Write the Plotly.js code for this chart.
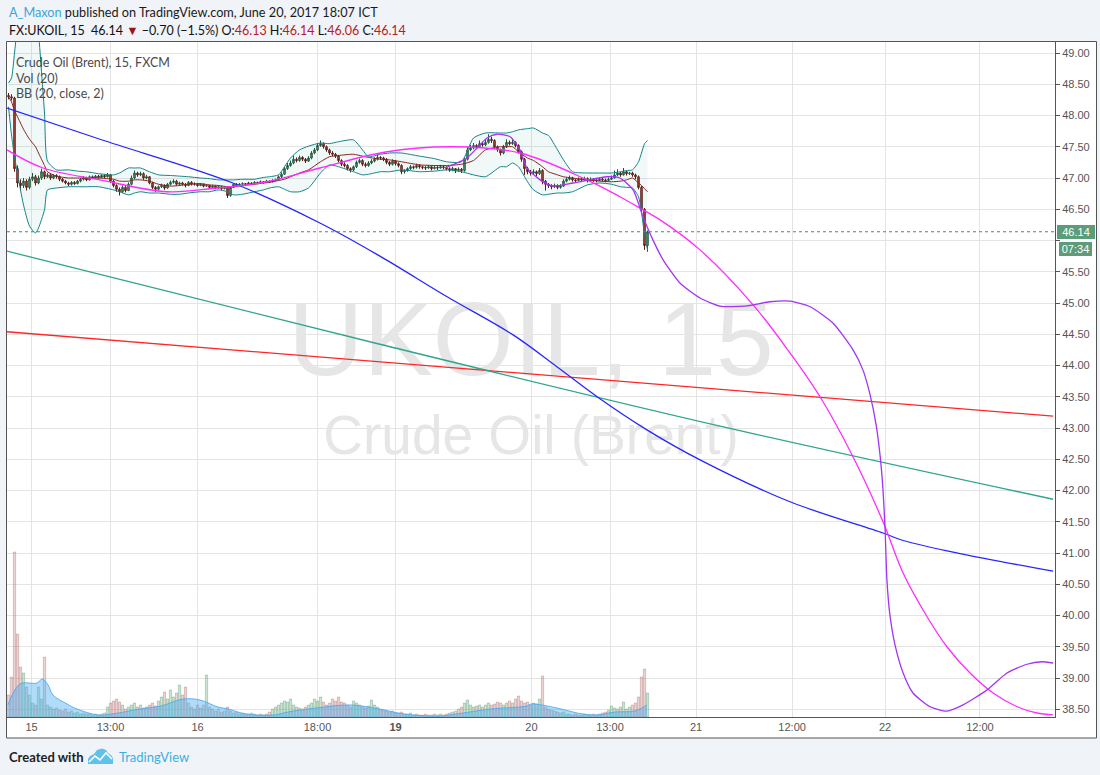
<!DOCTYPE html>
<html><head><meta charset="utf-8">
<script src="https://cdn.plot.ly/plotly-3.0.1.min.js"></script>
<style>html,body{margin:0;padding:0;background:#f0f3f7;}#chart{width:1100px;height:775px;}</style>
</head><body><div id="chart"></div>
<script>
// ---------- DATA ----------
const barOpen = [
48.32,48.30,48.28,47.15,46.92,46.88,46.95,46.85,46.98,47.02,
46.92,47.00,47.10,47.02,47.05,47.00,47.04,47.02,46.98,46.95,
46.92,46.90,46.93,46.91,46.95,46.98,47.00,46.97,47.02,47.00,
47.03,47.01,47.04,47.02,47.05,46.95,46.88,46.82,46.78,46.85,
46.80,46.90,47.00,47.08,47.05,47.07,47.00,47.02,46.92,46.85,
46.82,46.86,46.88,46.84,46.90,46.93,46.95,46.90,46.92,46.90,
46.88,46.93,46.90,46.90,46.88,46.90,46.87,46.88,46.85,46.87,
46.84,46.86,46.83,46.85,46.72,46.85,46.90,46.88,46.90,46.91,
46.90,46.92,46.91,46.93,46.92,46.94,46.93,46.95,46.94,46.96,
46.97,47.02,47.06,47.15,47.20,47.24,47.30,47.28,47.33,47.30,
47.27,47.32,47.40,47.45,47.52,47.55,47.50,47.45,47.40,47.38,
47.35,47.28,47.22,47.20,47.15,47.13,47.18,47.25,47.28,47.22,
47.20,47.24,47.27,47.30,47.33,47.32,47.30,47.25,47.22,47.27,
47.23,47.20,47.10,47.12,47.15,47.18,47.17,47.20,47.18,47.17,
47.16,47.18,47.15,47.17,47.16,47.18,47.17,47.15,47.13,47.15,
47.12,47.14,47.12,47.30,47.45,47.48,47.52,47.50,47.55,47.53,
47.57,47.62,47.60,47.50,47.45,47.40,47.50,47.57,47.55,47.57,
47.52,47.42,47.30,47.15,47.10,47.08,47.10,47.07,47.12,46.95,
46.90,46.88,46.86,46.88,46.85,46.87,46.95,46.98,47.00,46.97,
46.96,46.98,46.97,46.99,46.96,46.98,46.97,46.96,46.98,46.97,
46.96,46.98,47.00,47.05,47.08,47.05,47.10,47.07,47.08,47.05,
47.02,46.85,46.50,45.92];
const barHigh = [
48.36,48.34,48.30,47.20,46.98,47.00,46.98,47.02,47.08,47.05,
47.04,47.15,47.12,47.08,47.07,47.06,47.06,47.04,47.00,46.97,
46.94,46.95,46.95,46.97,47.00,47.03,47.02,47.04,47.04,47.05,
47.05,47.06,47.06,47.08,47.06,46.97,46.90,46.85,46.88,46.87,
46.93,47.04,47.12,47.10,47.10,47.09,47.05,47.03,46.94,46.87,
46.88,46.91,46.90,46.92,46.96,46.98,46.97,46.94,46.94,46.92,
46.95,46.95,46.93,46.92,46.92,46.91,46.90,46.89,46.89,46.88,
46.88,46.87,46.87,46.86,46.87,46.92,46.92,46.92,46.93,46.92,
46.94,46.93,46.95,46.94,46.96,46.95,46.97,46.96,46.98,46.99,
47.04,47.09,47.18,47.24,47.28,47.36,47.33,47.36,47.35,47.32,
47.35,47.43,47.48,47.56,47.60,47.57,47.52,47.47,47.43,47.40,
47.37,47.30,47.25,47.22,47.17,47.20,47.28,47.31,47.30,47.25,
47.27,47.30,47.33,47.38,47.35,47.34,47.32,47.27,47.30,47.29,
47.25,47.22,47.14,47.17,47.21,47.20,47.23,47.22,47.20,47.19,
47.21,47.20,47.20,47.19,47.21,47.20,47.19,47.17,47.18,47.16,
47.17,47.16,47.33,47.50,47.53,47.56,47.54,47.60,47.58,47.62,
47.70,47.66,47.62,47.52,47.47,47.53,47.62,47.60,47.63,47.59,
47.54,47.44,47.32,47.18,47.13,47.14,47.12,47.16,47.14,46.97,
46.92,46.90,46.91,46.90,46.90,46.98,47.01,47.04,47.02,46.99,
47.01,47.00,47.02,47.01,47.01,47.00,46.99,47.01,47.00,46.99,
47.01,47.04,47.12,47.14,47.10,47.16,47.12,47.10,47.10,47.07,
47.04,46.87,46.52,46.16];
const barLow = [
48.26,48.24,47.10,46.85,46.80,46.84,46.80,46.82,46.95,46.88,
46.90,46.97,46.98,47.00,46.97,46.98,46.99,46.95,46.93,46.90,
46.87,46.88,46.89,46.90,46.93,46.96,46.95,46.96,46.98,46.99,
46.99,47.00,47.00,47.01,46.92,46.85,46.78,46.72,46.76,46.77,
46.79,46.88,46.98,47.02,47.03,46.97,46.98,46.90,46.82,46.78,
46.80,46.84,46.81,46.83,46.88,46.91,46.88,46.88,46.88,46.85,
46.87,46.88,46.88,46.86,46.87,46.85,46.86,46.83,46.84,46.82,
46.83,46.81,46.82,46.68,46.70,46.84,46.86,46.87,46.89,46.88,
46.89,46.89,46.90,46.90,46.91,46.91,46.92,46.92,46.93,46.95,
46.96,47.00,47.05,47.13,47.18,47.22,47.25,47.26,47.27,47.24,
47.26,47.30,47.38,47.43,47.50,47.47,47.42,47.37,47.35,47.32,
47.25,47.19,47.17,47.12,47.09,47.11,47.16,47.23,47.19,47.17,
47.18,47.22,47.25,47.28,47.29,47.27,47.22,47.19,47.20,47.20,
47.17,47.06,47.07,47.10,47.13,47.14,47.15,47.15,47.14,47.13,
47.15,47.12,47.14,47.13,47.15,47.14,47.12,47.10,47.11,47.08,
47.10,47.08,47.10,47.28,47.43,47.46,47.46,47.48,47.50,47.51,
47.55,47.56,47.47,47.42,47.36,47.38,47.48,47.52,47.53,47.49,
47.39,47.26,47.05,47.06,47.04,47.06,47.03,47.05,46.90,46.80,
46.84,46.82,46.84,46.82,46.83,46.86,46.93,46.96,46.94,46.93,
46.95,46.94,46.96,46.93,46.95,46.94,46.93,46.95,46.94,46.93,
46.95,46.97,46.99,47.03,47.02,47.04,47.04,47.05,47.02,46.98,
46.82,46.45,45.85,45.82];
const barClose = [
48.30,48.28,47.15,46.92,46.88,46.95,46.85,46.98,47.02,46.92,
47.00,47.10,47.02,47.05,47.00,47.04,47.02,46.98,46.95,46.92,
46.90,46.93,46.91,46.95,46.98,47.00,46.97,47.02,47.00,47.03,
47.01,47.04,47.02,47.05,46.95,46.88,46.82,46.78,46.85,46.80,
46.90,47.00,47.08,47.05,47.07,47.00,47.02,46.92,46.85,46.82,
46.86,46.88,46.84,46.90,46.93,46.95,46.90,46.92,46.90,46.88,
46.93,46.90,46.90,46.88,46.90,46.87,46.88,46.85,46.87,46.84,
46.86,46.83,46.85,46.72,46.85,46.90,46.88,46.90,46.91,46.90,
46.92,46.91,46.93,46.92,46.94,46.93,46.95,46.94,46.96,46.97,
47.02,47.06,47.15,47.20,47.24,47.30,47.28,47.33,47.30,47.27,
47.32,47.40,47.45,47.52,47.55,47.50,47.45,47.40,47.38,47.35,
47.28,47.22,47.20,47.15,47.13,47.18,47.25,47.28,47.22,47.20,
47.24,47.27,47.30,47.33,47.32,47.30,47.25,47.22,47.27,47.23,
47.20,47.10,47.12,47.15,47.18,47.17,47.20,47.18,47.17,47.16,
47.18,47.15,47.17,47.16,47.18,47.17,47.15,47.13,47.15,47.12,
47.14,47.12,47.30,47.45,47.48,47.52,47.50,47.55,47.53,47.57,
47.62,47.60,47.50,47.45,47.40,47.50,47.57,47.55,47.57,47.52,
47.42,47.30,47.15,47.10,47.08,47.10,47.07,47.12,46.95,46.90,
46.88,46.86,46.88,46.85,46.87,46.95,46.98,47.00,46.97,46.96,
46.98,46.97,46.99,46.96,46.98,46.97,46.96,46.98,46.97,46.96,
46.98,47.00,47.05,47.08,47.05,47.10,47.07,47.08,47.05,47.02,
46.85,46.50,45.92,46.14];
const volume = [
22,40,165,83,50,44,30,22,14,12,
30,18,60,12,10,8,9,7,6,8,
5,6,4,5,3,4,3,3,2,3,
2,3,4,10,14,16,18,15,12,8,
10,12,14,10,12,9,10,12,14,11,
16,20,25,18,27,20,24,32,22,30,
14,10,8,12,9,12,42,10,8,6,
8,5,6,10,6,4,5,3,4,3,
3,4,3,2,3,2,3,5,8,10,
12,14,16,15,18,12,10,9,8,10,
12,14,18,16,20,15,12,14,18,16,
20,15,14,12,10,16,14,12,10,9,
11,17,12,10,8,7,6,5,6,4,
4,5,3,3,4,2,3,2,2,3,
2,2,3,2,3,2,3,4,5,6,
8,10,14,17,12,10,11,12,10,12,
14,12,13,15,14,12,14,16,14,18,
21,16,14,15,12,14,13,18,41,10,
8,7,6,5,4,5,3,3,2,3,
2,2,3,2,2,3,2,3,4,5,
7,11,9,8,10,15,8,10,12,14,
20,40,48,24];
const volMaX = [-0.2,3.8,9.5,11.2,13.2,14.8,19.5,22.8,29.8,34.5,43.8,50.8,58.2,63.8,69.8,73.2,79.2,88.5,93.2,102.5,114.2,123.5,131.8,143.5,149.2,160.8,172.8,174.2,182.8,189.5,195.8,202.2,208.8,212.8];
const volMaY = [12,33,34,38,32,22,13,8,2,3,8,11,18,17,10,8,3,2,5,9,12,8,3,1,3,8,11,13,9,4,2,5,6,12];

const bbX = [0,1,2,4,5,7,9,10,12,13,16,20,23,26,30,35,37,40,42,44,47,50,54,57,60,64,67,70,73,75,78,82,85,87,90,92,94,97,100,104,107,110,115,118,120,124,127,131,137,142,146,151,155,159,164,166,168,170,173,175,178,180,183,185,188,193,197,201,204,206,208,210,211,212,213];
const bbUpper = [48.52,48.60,49.00,49.90,50.20,50.30,50.00,49.35,48.04,47.27,
47.13,47.13,47.11,47.10,47.07,47.05,47.08,47.16,47.16,47.16,
47.10,47.05,47.04,47.03,47.02,47.00,46.99,46.97,46.97,46.97,
46.98,46.98,47.01,47.02,47.05,47.18,47.32,47.45,47.51,47.56,
47.55,47.58,47.61,47.45,47.34,47.38,47.40,47.40,47.35,47.31,
47.26,47.26,47.64,47.72,47.72,47.72,47.74,47.77,47.79,47.80,
47.72,47.68,47.45,47.29,47.10,47.08,47.08,47.08,47.10,47.12,
47.13,47.26,47.40,47.55,47.60];
const bbLower = [48.14,47.69,47.34,46.81,46.57,46.23,46.12,46.20,46.49,46.81,
46.84,46.86,46.86,46.86,46.86,46.81,46.78,46.73,46.76,46.78,
46.76,46.76,46.74,46.74,46.76,46.78,46.78,46.81,46.78,46.73,
46.74,46.78,46.81,46.84,46.86,46.82,46.78,46.78,46.84,47.08,
47.21,47.18,47.10,47.05,47.06,47.10,47.10,47.13,47.10,47.11,
47.13,47.10,47.05,47.02,47.18,47.18,47.24,47.18,46.94,46.81,
46.73,46.74,46.76,46.76,46.78,46.89,46.92,46.90,46.86,46.85,
46.84,46.70,46.45,46.10,45.85];
const bbBasis = [48.30,48.22,48.08,47.88,47.78,47.62,47.50,47.40,47.20,47.10,
47.03,47.00,47.00,47.00,47.00,46.98,46.95,46.95,46.97,46.97,
46.95,46.90,46.87,46.88,46.90,46.91,46.89,46.88,46.86,46.86,
46.88,46.90,46.92,46.93,46.96,46.98,47.02,47.08,47.13,47.26,
47.34,47.36,47.38,47.35,47.33,47.30,47.29,47.26,47.21,47.20,
47.20,47.22,47.28,47.45,47.50,47.50,47.50,47.42,47.32,47.28,
47.18,47.10,47.05,47.02,47.00,46.97,46.95,46.94,46.95,46.97,
47.00,46.92,46.88,46.83,46.78];

// hand-drawn curves (bar index, price)
const blueX = [-0.5,30.5,74.8,103.8,123.8,146.2,168.2,182.8,196.2,212.8,230.5,260.5,291.5,298.2,317.2,348.2];
const blueY = [48.12,47.62,46.92,46.28,45.75,45.10,44.49,43.98,43.50,42.97,42.49,41.82,41.32,41.20,40.99,40.71];
const greenX = [-0.5,123.8,237.2,348.2];
const greenY = [45.83,44.34,43.03,41.86];
const redX = [-0.5,348.2];
const redY = [44.54,43.19];
const magentaX = [-0.5,11.5,30.5,52.8,69.5,86.2,103.8,126.2,148.2,170.5,192.8,203.8,211.5,217.2,230.5,248.2,260.5,270.5,281.5,291.5,298.2,306.2,312.8,320.5,328.2,336.2,342.8,348.2];
const magentaY = [47.45,47.16,46.97,46.78,46.84,46.94,47.16,47.42,47.50,47.40,46.97,46.70,46.49,46.33,45.85,44.97,44.20,43.50,42.54,41.50,40.68,39.98,39.50,39.08,38.76,38.54,38.44,38.41];
const purpleX = [145.5,152.8,159.5,162.8,167.2,170.5,172.8,177.2,181.5,188.2,199.5,203.8,208.2,211.5,214.8,218.2,223.8,230.5,237.2,245.5,253.8,260.5,267.2,274.8,281.5,284.8,287.2,289.2,290.5,291.5,292.2,292.8,293.8,295.5,298.2,301.5,307.2,312.8,318.2,326.2,332.8,339.5,344.5,348.2];
const purpleY = [47.16,47.32,47.64,47.70,47.66,47.45,47.16,46.97,46.87,46.92,47.02,47.00,46.81,46.38,46.01,45.69,45.32,45.08,44.95,44.95,45.02,45.03,44.94,44.68,44.25,43.93,43.53,43.05,42.57,42.01,41.37,40.57,40.01,39.53,39.08,38.76,38.54,38.47,38.57,38.81,39.08,39.22,39.26,39.24];

const tickPos = [7.7,34.0,63.0,103.0,129.0,174.3,200.5,229.2,261.2,292.2,323.8];
const tickText = ['15','13:00','16','18:00','<b>19</b>','20','13:00','21','12:00','22','12:00'];
const priceTicks = [38.5,39.0,39.5,40.0,40.5,41.0,41.5,42.0,42.5,43.0,43.5,44.0,44.5,45.0,45.5,46.0,46.5,47.0,47.5,48.0,48.5,49.0];
const priceTickText = ['38.50','39.00','39.50','40.00','40.50','41.00','41.50','42.00','42.50','43.00','43.50','44.00','44.50','45.00','45.50','','46.50','47.00','47.50','48.00','48.50','49.00'];
const lastPrice = 46.14;
const timeLeft = '07:34';
const watermark = ['UKOIL, 15','Crude Oil (Brent)'];

// ---------- CHART ----------
const barIndex = barClose.map((_, k) => k);
const up = barClose.map((c, k) => c >= barOpen[k]);
const volFill = up.map(u => u ? 'rgba(120,190,140,0.40)' : 'rgba(205,140,140,0.38)');
const volEdge = up.map(u => u ? 'rgba(70,140,95,0.55)' : 'rgba(165,95,95,0.55)');

const FONT = 'Lato, "Liberation Sans", Arial, sans-serif';
const AX = '"Liberation Sans", Arial, sans-serif';

const traces = [
  {type:'scatter', mode:'text', x:[174.2,174.2], y:[44.26,42.80], text:watermark,
   textposition:'middle center', textfont:{family:AX, size:[104,55], color:'#e6e6e6'}, hoverinfo:'skip'},
  {type:'bar', x:barIndex, y:volume, yaxis:'y2', width:0.75,
   marker:{color:volFill, line:{color:volEdge, width:0.6}}, hoverinfo:'skip'},
  {type:'scatter', mode:'lines', x:volMaX, y:volMaY, yaxis:'y2', fill:'tozeroy',
   fillcolor:'rgba(80,178,245,0.45)', line:{color:'rgba(80,170,240,0.9)', width:1, shape:'spline'}, hoverinfo:'skip'},
  {type:'scatter', mode:'lines', x:bbX, y:bbLower, line:{color:'#138484', width:1, shape:'spline', smoothing:0.6}, hoverinfo:'skip'},
  {type:'scatter', mode:'lines', x:bbX, y:bbUpper, fill:'tonexty', fillcolor:'rgba(25,135,135,0.06)',
   line:{color:'#138484', width:1, shape:'spline', smoothing:0.6}, hoverinfo:'skip'},
  {type:'scatter', mode:'lines', x:bbX, y:bbBasis, line:{color:'#872323', width:1, shape:'spline', smoothing:0.6}, hoverinfo:'skip'},
  {type:'candlestick', x:barIndex, open:barOpen, high:barHigh, low:barLow, close:barClose, whiskerwidth:0,
   increasing:{line:{color:'#225437', width:1}, fillcolor:'#6ba583'},
   decreasing:{line:{color:'#5b1a13', width:1}, fillcolor:'#d75442'}, hoverinfo:'skip'},
  {type:'scatter', mode:'lines', x:redX, y:redY, line:{color:'#ff2626', width:1.3}, hoverinfo:'skip'},
  {type:'scatter', mode:'lines', x:greenX, y:greenY, line:{color:'#2ea58a', width:1.3, shape:'spline'}, hoverinfo:'skip'},
  {type:'scatter', mode:'lines', x:blueX, y:blueY, line:{color:'#2626ff', width:1.3, shape:'spline'}, hoverinfo:'skip'},
  {type:'scatter', mode:'lines', x:magentaX, y:magentaY, line:{color:'#ff2cff', width:1.3, shape:'spline'}, hoverinfo:'skip'},
  {type:'scatter', mode:'lines', x:purpleX, y:purpleY, line:{color:'#a334f5', width:1.3, shape:'spline', smoothing:0.6}, hoverinfo:'skip'}
];

// pixel -> paper helpers for layout decorations
const PX = x => (x - 7) / 1048;
const PY = y => (717 - y) / 675;
const logoPath = (pts) => 'M' + pts.map(p => PX(p[0]).toFixed(5) + ',' + PY(p[1]).toFixed(5)).join(' L') + ' Z';
const zig = (pts) => 'M' + pts.map(p => PX(p[0]).toFixed(5) + ',' + PY(p[1]).toFixed(5)).join(' L');

const layout = {
  width:1100, height:775,
  margin:{l:7, r:45, t:42, b:58, pad:0},
  paper_bgcolor:'#f0f3f7', plot_bgcolor:'#ffffff',
  showlegend:false, hovermode:false,
  xaxis:{range:[-0.5,348.83], tickmode:'array', tickvals:tickPos, ticktext:tickText,
    showgrid:true, gridcolor:'#e4e4e4', gridwidth:1, zeroline:false, showline:true, linecolor:'#555', linewidth:1,
    ticks:'', tickfont:{family:AX, size:11, color:'#555'}, rangeslider:{visible:false}, fixedrange:true},
  yaxis:{range:[38.376,49.176], side:'right', tickmode:'array', tickvals:priceTicks, ticktext:priceTickText,
    showgrid:true, gridcolor:'#e4e4e4', zeroline:false, showline:true, linecolor:'#555', linewidth:1,
    ticks:'outside', ticklen:4, tickcolor:'#555', tickfont:{family:AX, size:11, color:'#555'}, fixedrange:true},
  yaxis2:{overlaying:'y', range:[0,675], visible:false, fixedrange:true},
  shapes:[
    {type:'rect', xref:'paper', yref:'paper', x0:PX(6.5), x1:PX(1096.5), y0:PY(738), y1:PY(41.5),
     fillcolor:'#ffffff', line:{width:0}, layer:'below'},
    {type:'rect', xref:'paper', yref:'paper', x0:PX(6.5), x1:PX(1096.5), y0:PY(738), y1:PY(41.5),
     line:{color:'#555', width:1}, layer:'above'},
    {type:'line', xref:'paper', yref:'y', x0:0, x1:1, y0:lastPrice, y1:lastPrice,
     line:{color:'#4f8a6a', width:1, dash:'dot'}},
    {type:'path', xref:'paper', yref:'paper', fillcolor:'#5ec2ec', line:{width:0},
     path:logoPath([[88,764],[88,759],[90,756],[94,754],[97,750],[102,748.5],[106,750],[108,753],[111,755],[113,758],[113,764]])},
    {type:'path', xref:'paper', yref:'paper', line:{color:'#ffffff', width:1.6},
     path:zig([[89,762],[95,756],[100,760],[106,753],[112,759]])}
  ],
  annotations:[
    {xref:'paper', yref:'paper', x:PX(7), y:PY(12), xanchor:'left', yanchor:'middle', showarrow:false,
     text:'<span style="color:#3ba5dc">A_Maxon</span> published on TradingView.com, June 20, 2017 18:07 ICT',
     font:{family:FONT, size:12.7, color:'#1a1a1a'}},
    {xref:'paper', yref:'paper', x:PX(7), y:PY(30), xanchor:'left', yanchor:'middle', showarrow:false,
     text:'FX:UKOIL, 15  46.14 <span style="color:#9b1414">▼</span> −0.70 (−1.5%) O:<span style="color:#b71c1c">46.13</span> H:<span style="color:#b71c1c">46.14</span> L:<span style="color:#b71c1c">46.06</span> C:<span style="color:#b71c1c">46.14</span>',
     font:{family:FONT, size:12.5, color:'#111'}},
    {xref:'paper', yref:'paper', x:PX(14), y:PY(62), xanchor:'left', yanchor:'middle', showarrow:false,
     text:'Crude Oil (Brent), 15, FXCM', font:{family:FONT, size:12.5, color:'#4a4a4a'}},
    {xref:'paper', yref:'paper', x:PX(14), y:PY(78), xanchor:'left', yanchor:'middle', showarrow:false,
     text:'Vol (20)', font:{family:FONT, size:12.5, color:'#4a4a4a'}},
    {xref:'paper', yref:'paper', x:PX(14), y:PY(94), xanchor:'left', yanchor:'middle', showarrow:false,
     text:'BB (20, close, 2)', font:{family:FONT, size:12.5, color:'#4a4a4a'}},
    {xref:'paper', yref:'y', x:1, y:lastPrice, xanchor:'left', yanchor:'middle', xshift:2, showarrow:false,
     text:lastPrice.toFixed(2), bgcolor:'#5c9c7a', width:38, height:14, borderpad:0, borderwidth:0,
     font:{family:AX, size:11, color:'#ffffff'}},
    {xref:'paper', yref:'y', x:1, y:lastPrice, xanchor:'left', yanchor:'middle', xshift:4, yshift:-17.5, showarrow:false,
     text:timeLeft, bgcolor:'#5c9c7a', width:33, height:14, borderpad:0, borderwidth:0,
     font:{family:AX, size:11, color:'#ffffff'}},
    {xref:'paper', yref:'paper', x:PX(7), y:PY(757), xanchor:'left', yanchor:'middle', showarrow:false,
     text:'Created with', font:{family:FONT, size:13, color:'#1e1e1e', weight:700}},
    {xref:'paper', yref:'paper', x:PX(117), y:PY(757), xanchor:'left', yanchor:'middle', showarrow:false,
     text:'TradingView', font:{family:FONT, size:13, color:'#3bb0e2'}}
  ]
};

Plotly.newPlot('chart', traces, layout, {staticPlot:true, displayModeBar:false});
</script>
</body></html>
